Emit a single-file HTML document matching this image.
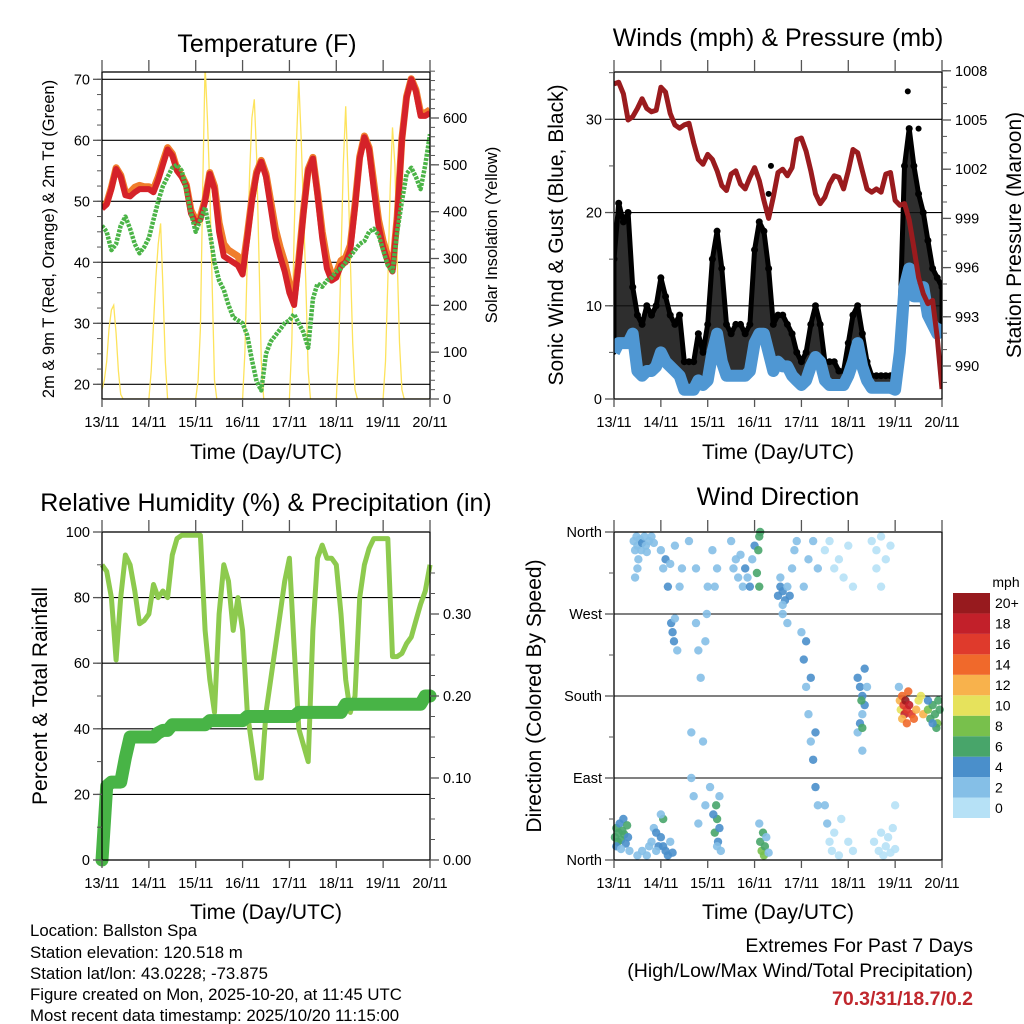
<!DOCTYPE html>
<html><head><meta charset="utf-8"><style>
html,body{margin:0;padding:0;background:#fff}
svg{display:block;font-family:"Liberation Sans",sans-serif}
</style></head><body>
<svg id="c" width="1024" height="1024" viewBox="0 0 1024 1024" xmlns="http://www.w3.org/2000/svg">
<rect width="1024" height="1024" fill="#fff"/>
<g font-size="25" text-anchor="middle" fill="#000">
<text x="267" y="52">Temperature (F)</text>
<text x="778" y="46">Winds (mph) &amp; Pressure (mb)</text>
<text x="266" y="511">Relative Humidity (%) &amp; Precipitation (in)</text>
<text x="778" y="505">Wind Direction</text>
</g>
<g font-size="21" text-anchor="middle">
<text x="266" y="459">Time (Day/UTC)</text>
<text x="778" y="459">Time (Day/UTC)</text>
<text x="266" y="919">Time (Day/UTC)</text>
<text x="778" y="919">Time (Day/UTC)</text>
<text transform="translate(563,235) rotate(-90)">Sonic Wind &amp; Gust (Blue, Black)</text>
<text transform="translate(1021,235) rotate(-90)">Station Pressure (Maroon)</text>
<text transform="translate(47,696) rotate(-90)">Percent &amp; Total Rainfall</text>
<text transform="translate(541,696) rotate(-90)">Direction (Colored By Speed)</text>
</g>
<g font-size="16.5" text-anchor="middle">
<text transform="translate(54,239) rotate(-90)">2m &amp; 9m T (Red, Orange) &amp; 2m Td (Green)</text>
<text transform="translate(497,235) rotate(-90)">Solar Insolation (Yellow)</text>
</g>
<g font-size="16.8">
<text x="30" y="936">Location: Ballston Spa</text>
<text x="30" y="958">Station elevation: 120.518 m</text>
<text x="30" y="979">Station lat/lon: 43.0228; -73.875</text>
<text x="30" y="1000">Figure created on Mon, 2025-10-20, at 11:45 UTC</text>
<text x="30" y="1021">Most recent data timestamp: 2025/10/20 11:15:00</text>
</g>
<g font-size="19.5" text-anchor="end">
<text x="973" y="952">Extremes For Past 7 Days</text>
<text x="973" y="977">(High/Low/Max Wind/Total Precipitation)</text>
<text x="973" y="1005" font-weight="bold" fill="#c0272d">70.3/31/18.7/0.2</text>
</g>
<g id="layer"></g>
</svg>
<script>
// ---------- data (sampled every 0.1 day unless noted) ----------
const dayLabels = ["13/11","14/11","15/11","16/11","17/11","18/11","19/11","20/11"];
const tempRed = [48.8,49.5,52,55.3,54,51,50.8,51.5,52,52,52,51.5,53.5,56,58.5,57.5,55,54,52.5,48,46.5,47,50,54.5,52,45,41,40.5,40,39.5,38,44,50,54.5,56.5,54,49,44,41,38.5,35,33,40,48,55,57,51,44,39,37,37.5,39.5,40,42,49,57,60.5,58.5,52,46,42.5,40,38.5,47,60,67,70,68,64,64,64.5];
const tempOrange = [49,49.7,52.3,55.5,54.3,51.5,51.5,52.3,52.6,52.4,52.4,52,54,56.5,58.8,57.8,55.3,54.2,52.7,48.5,47,47.5,50.3,54.7,52.5,46.5,43,42,41.5,41,39,44.5,50.5,54.8,56.7,54.5,50,45.5,42.5,40,36.5,34,40.5,48.5,55.3,57.2,51.5,45,40.5,38,38.3,40.3,40.8,42.8,49.5,57.3,60.7,58.8,53,47,43.5,41,39,47.5,60.3,67.2,70.1,68.3,64.5,64.5,65];
const dewGreen = [46,45,42,43,46,47.5,45.5,43,41.5,42.5,44,47,50,52.5,54,55.5,56,55,52,48,45,47,49,45,40,37,35.5,33,31,30.5,30,28,24,20.5,19,25,27,28,29,30,30.5,31.5,30,28.5,26,34,36.5,36,37,37.5,38.5,39,40,41,42,43,43.5,45,45.5,44.5,42,39.5,38.5,45,50,54.5,55.5,54,52,56,61];
// solar every 0.05 day
const solar = [20,40,80,150,190,200,140,60,10,0,0,0,0,0,0,0,0,0,0,0,
0,60,160,260,330,375,240,80,0,0,0,0,0,0,0,0,0,0,0,0,
0,40,150,450,713,600,450,250,40,0,0,0,0,0,0,0,0,0,0,0,
0,100,300,480,600,640,520,300,80,0,0,0,0,0,0,0,0,0,0,0,
0,120,350,550,680,560,400,250,60,0,0,0,0,0,0,0,0,0,0,0,
0,100,300,500,625,480,300,120,20,0,0,0,0,0,0,0,0,0,0,0,
0,80,250,450,580,500,300,120,20,0,0,0,0,0,0,0,0,0,0,0,0];
const pressure = [1007.2,1007.3,1006.6,1005.0,1005.2,1005.7,1006.3,1005.7,1005.5,1005.6,1007.0,1006.7,1005.4,1004.7,1004.5,1004.7,1004.8,1003.6,1002.6,1002.3,1002.9,1002.6,1001.9,1001.0,1000.7,1001.7,1001.9,1001.1,1000.8,1001.5,1002.1,1001.3,1000.1,999.0,1000.3,1001.8,1002.0,1001.6,1002.1,1003.8,1003.9,1003.1,1001.9,1000.5,999.9,1000.3,1001.1,1001.6,1001.5,1000.8,1001.9,1003.2,1003.0,1001.9,1000.8,1000.6,1000.8,1000.6,1001.7,1001.8,1000.1,999.8,999.9,998.9,997.2,995.4,994.4,993.8,994.0,991.7,988.6];
const windSpeed = [5,6,6,6,7,3,2.5,3,3,3.5,5,4,3.5,3,2.5,1,1,1,2,1.5,2,5,7,4,2.5,2.5,2.5,2.5,2.5,3,6,7,7,5,3,4,3.5,3.5,2.5,2,1.5,2,3.5,4.5,4,2,1.5,1.5,1.5,1.5,2.5,4,6,3.5,2,1.2,1.2,1.2,1.2,1.2,1,5,12,14,11,11,12,9,8,7,8];
const gustMax = [15,21,19,20,12,9,8,10,9,10,13,11,9,8,9,4,4,4,7,5,8,15,18,14,8,7,8,8,7,8,16,19,18,14,8,9,9,8,7,5,4,5,8,10,8,4,4,4,3,3,6,9,10,7,4,2.5,2.5,2.5,2.5,2.5,2.5,8,25,29,25,22,20,17,14,13,12];
const gustOutDays = [6.27,3.35,6.5,3.3];
const gustOutVals = [33,25,29,22];
const rh = [90,88,80,61,80,93,90,82,72,73,75,84,80,82,80,93,98,99,99,99,99,99,70,55,45,75,90,85,70,80,70,45,35,25,25,45,55,65,75,85,92,65,40,35,30,70,92,96,92,92,90,75,55,45,50,80,90,95,98,98,98,98,62,62,63,66,68,73,78,82,90];
const precip = [0,0.09,0.095,0.095,0.095,0.125,0.15,0.15,0.15,0.15,0.15,0.15,0.155,0.158,0.158,0.165,0.165,0.165,0.165,0.165,0.165,0.165,0.165,0.17,0.17,0.17,0.17,0.17,0.17,0.17,0.17,0.175,0.175,0.175,0.175,0.175,0.175,0.175,0.175,0.175,0.175,0.175,0.18,0.18,0.18,0.18,0.18,0.18,0.18,0.18,0.18,0.18,0.19,0.19,0.19,0.19,0.19,0.19,0.19,0.19,0.19,0.19,0.19,0.19,0.19,0.19,0.19,0.19,0.19,0.2,0.2];
const dirDay = [0.02,0.05,0.08,0.1,0.12,0.15,0.18,0.2,0.22,0.25,0.28,0.3,0.05,0.15,0.33,
0.42,0.45,0.48,0.5,0.52,0.55,0.58,0.6,0.65,0.68,0.7,0.75,0.8,0.85,0.5,0.45,
0.5,0.6,0.7,0.75,0.8,0.85,0.9,0.95,1.0,1.05,1.05,1.1,1.15,1.2,1.25,0.9,1.0,
1.0,1.05,1.1,1.15,1.2,1.22,1.25,1.28,1.3,1.35,1.4,1.45,1.3,
1.65,1.7,1.75,1.8,1.85,1.9,1.95,1.75,1.6,1.65,1.8,2.0,1.98,1.95,2.05,
2.15,2.2,2.18,2.22,2.25,2.12,2.2,2.28,2.25,2.15,2.2,2.1,
2.5,2.55,2.6,2.65,2.7,2.75,2.8,2.85,2.9,2.95,3.0,3.05,3.08,3.1,3.12,3.1,
3.12,3.15,3.18,3.2,3.22,3.1,3.25,3.3,
3.5,3.55,3.6,3.65,3.7,3.75,3.55,3.6,3.8,3.85,3.9,3.7,3.6,
4.0,4.05,4.1,4.15,4.2,4.25,4.3,4.35,4.1,4.2,4.3,4.05,4.15,4.25,4.35,
4.5,4.55,4.6,4.65,4.7,4.8,4.85,4.5,4.6,4.7,4.8,4.9,5.0,5.1,5.0,5.1,
5.2,5.25,5.3,5.35,5.3,5.25,5.2,5.35,5.3,5.28,5.4,5.3,
5.5,5.6,5.7,5.8,5.9,5.6,5.7,5.55,5.65,5.7,5.75,5.8,5.85,5.9,6.0,5.95,6.0,
6.1,6.12,6.15,6.18,6.2,6.22,6.25,6.28,6.3,6.35,6.4,6.45,6.5,6.55,6.6,6.15,6.25,6.08,
6.7,6.75,6.8,6.85,6.9,6.92,6.88,6.95,6.8,6.7];
const dirDeg = [25,35,20,30,40,22,32,45,28,18,38,25,15,12,10,
350,340,355,345,330,352,340,348,355,345,338,350,355,348,320,310,
5,10,5,15,20,35,30,15,25,45,15,10,5,20,8,10,50,
340,320,330,300,325,260,250,240,265,230,300,320,345,
90,70,260,230,200,130,60,320,350,140,40,300,270,240,80,
30,45,60,20,35,50,15,10,70,300,320,340,
350,320,330,310,335,300,320,310,300,330,345,315,340,355,360,300,
20,10,30,5,15,40,25,8,
290,300,295,285,300,290,310,280,320,340,350,260,270,
250,220,190,160,130,110,80,60,240,200,140,300,330,350,320,
60,40,20,10,30,5,45,340,350,320,330,310,345,300,20,10,
200,190,180,170,160,150,140,210,145,175,190,120,
350,340,355,330,345,320,300,20,10,30,5,15,25,8,12,35,60,
175,165,180,170,160,175,165,185,170,160,155,165,175,180,160,155,150,190,
165,155,170,160,150,175,145,165,150,175];
const dirSpd = [6,7,6,7,5,6,7,4,6,4,7,5,4,3,3,
2,2,2,2,2,3,2,4,2,3,3,2,2,2,2,2,
2,2,3,2,3,3,4,4,4,6,4,4,4,3,4,2,3,
3,3,4,4,2,4,4,5,3,2,2,2,2,
2,2,3,3,2,2,2,2,2,2,2,3,3,2,2,
7,6,7,5,4,4,3,3,2,3,2,2,
2,2,2,3,3,2,4,3,4,3,4,6,6,6,6,7,
7,8,6,8,6,3,3,2,
4,4,5,4,3,4,3,3,2,2,2,2,3,
3,4,3,2,3,4,4,2,4,4,4,2,2,2,2,
2,2,1,1,1,1,1,1,1,1,1,1,1,1,1,1,
4,4,5,4,3,4,3,4,6,6,3,3,
1,1,1,1,1,1,1,1,1,1,1,1,1,1,1,1,1,
12,10,14,16,18,20,16,14,18,16,14,12,10,10,12,12,14,3,
8,7,6,7,8,6,7,6,5,4];
const speedBins = ["0","2","4","6","8","10","12","14","16","18","20+"];
const binColors = ["#b6e1f6","#85bfe7","#4a8fcb","#48a56a","#78c04c","#e6e25c","#f8b24c","#f0692b","#df3a2c","#c2202a","#971a1e"];

// ---------- helpers ----------
const NS="http://www.w3.org/2000/svg";
const layer=document.getElementById('layer');
function mk(tag,attrs,parent){const e=document.createElementNS(NS,tag);for(const k in attrs)e.setAttribute(k,attrs[k]);(parent||layer).appendChild(e);return e;}
function lin(d0,d1,r0,r1){return v=>r0+(v-d0)*(r1-r0)/(d1-d0);}
function pathFrom(arr,step,xs,ys){return arr.map((v,i)=>(i?'L':'M')+xs(i*step).toFixed(1)+' '+ys(v).toFixed(1)).join(' ');}
function frame(x0,y0,x1,y1,name){
  const r=mk('rect',{x:x0,y:y0,width:x1-x0,height:y1-y0,fill:'none',stroke:'#000','stroke-width':1.3});
  
  
}
function hgrid(y,x0,x1){const l=mk('line',{x1:x0,x2:x1,y1:y,y2:y,stroke:'#000','stroke-width':1.1});
  
  }
function text(x,y,s,anchor,size,name){const t=mk('text',{x:x,y:y,'font-size':size||14.5,'text-anchor':anchor||'middle'});t.textContent=s;
  
  return t;}
function xAxis(xs,y0,y1,labelY){
  dayLabels.forEach((lb,i)=>{const x=xs(i);
    mk('line',{x1:x,x2:x,y1:y1,y2:y1+8,stroke:'#555','stroke-width':1.3});
    mk('line',{x1:x,x2:x,y1:y0-12,y2:y0,stroke:'#555','stroke-width':1.3});
    text(x,labelY,lb,'middle',14.5,'x-tick-label');});
}
function leftTicks(x0,ys,vals,labels,minor){
  minor.forEach(v=>mk('line',{x1:x0-5,x2:x0,y1:ys(v),y2:ys(v),stroke:'#555','stroke-width':1}));
  vals.forEach((v,i)=>{mk('line',{x1:x0-9,x2:x0,y1:ys(v),y2:ys(v),stroke:'#555','stroke-width':1.3});
    text(x0-12,ys(v)+5,labels[i],'end',14.5,'y-tick-label');});
}
function rightTicks(x1,ys,vals,labels,minor){
  minor.forEach(v=>mk('line',{x1:x1,x2:x1+5,y1:ys(v),y2:ys(v),stroke:'#555','stroke-width':1}));
  vals.forEach((v,i)=>{mk('line',{x1:x1,x2:x1+9,y1:ys(v),y2:ys(v),stroke:'#555','stroke-width':1.3});
    text(x1+13,ys(v)+5,labels[i],'start',14.5,'y2-tick-label');});
}
function range(a,b,s){const r=[];for(let v=a;v<=b+1e-9;v+=s)r.push(+v.toFixed(3));return r;}

// ---------- Panel 1: temperature ----------
{
const X0=102,X1=430,Y0=72,Y1=399;
const xs=lin(0,7,X0,X1), ys=lin(20,70,384.3,79.3), ys2=lin(0,600,399,118);
const cp=mk('clipPath',{id:'cp1'});mk('rect',{x:X0,y:Y0,width:X1-X0,height:Y1-Y0},cp);
[20,30,40,50,60,70].forEach(v=>hgrid(ys(v),X0,X1));
const g=mk('g',{'clip-path':'url(#cp1)'});


const sp=mk('path',{d:pathFrom(solar,0.05,xs,ys2),fill:'none',stroke:'#fde35c','stroke-width':1.3},g);


const op=mk('path',{d:pathFrom(tempOrange,0.1,xs,ys),fill:'none',stroke:'#f07d2b','stroke-width':7,'stroke-linejoin':'round'},g);


const rp=mk('path',{d:pathFrom(tempRed,0.1,xs,ys),fill:'none',stroke:'#d52229','stroke-width':6,'stroke-linejoin':'round'},g);


const dp=mk('path',{d:pathFrom(dewGreen,0.1,xs,ys),fill:'none',stroke:'#4bb447','stroke-width':4.5,'stroke-dasharray':'3 1.2','stroke-linejoin':'round'},g);


frame(X0,Y0,X1,Y1,'temperature-frame');
xAxis(xs,Y0,Y1,427);
leftTicks(X0,ys,[20,30,40,50,60,70],["20","30","40","50","60","70"],range(20,70,2.5));
rightTicks(X1,ys2,[0,100,200,300,400,500,600],["0","100","200","300","400","500","600"],range(0,700,20));
}

// ---------- Panel 2: winds & pressure ----------
{
const X0=614,X1=942,Y0=72,Y1=399;
const xs=lin(0,7,X0,X1), ys=lin(0,30,399,119.3), ys2=lin(990,1005,366,120);
const cp=mk('clipPath',{id:'cp2'});mk('rect',{x:X0,y:Y0,width:X1-X0,height:Y1-Y0},cp);
[10,20,30].forEach(v=>hgrid(ys(v),X0,X1));
const g=mk('g',{'clip-path':'url(#cp2)'});


let d=gustMax.map((v,i)=>(i?'L':'M')+xs(i*0.1).toFixed(1)+' '+ys(v).toFixed(1)).join(' ');
for(let i=windSpeed.length-1;i>=0;i--)d+=' L'+xs(i*0.1).toFixed(1)+' '+ys(windSpeed[i]).toFixed(1);
const band=mk('path',{d:d+'Z',fill:'#111','fill-opacity':0.88,stroke:'#000','stroke-width':5,'stroke-linejoin':'round'},g);


gustMax.forEach((v,i)=>{const c=mk('circle',{cx:xs(i*0.1),cy:ys(v),r:3.5,fill:'#000'},g);
  
  });
gustOutDays.forEach((dd,i)=>{const c=mk('circle',{cx:xs(dd),cy:ys(gustOutVals[i]),r:3,fill:'#000'},g);
  
  });
const wp=mk('path',{d:pathFrom(windSpeed,0.1,xs,ys),fill:'none',stroke:'#4f97d3','stroke-width':12,'stroke-linejoin':'round'},g);


const pp=mk('path',{d:pathFrom(pressure,0.1,xs,ys2),fill:'none',stroke:'#9a1b1e','stroke-width':5,'stroke-linejoin':'round'},g);


frame(X0,Y0,X1,Y1,'winds-frame');
xAxis(xs,Y0,Y1,427);
leftTicks(X0,ys,[0,10,20,30],["0","10","20","30"],range(0,35,5));
rightTicks(X1,ys2,[990,993,996,999,1002,1005,1008],["990","993","996","999","1002","1005","1008"],range(989,1008,1));
}

// ---------- Panel 3: RH & precip ----------
{
const X0=102,X1=430,Y0=532,Y1=860;
const xs=lin(0,7,X0,X1), ys=lin(0,100,860,532), ys2=lin(0,0.3,860,614);
const cp=mk('clipPath',{id:'cp3'});mk('rect',{x:X0-8,y:Y0-8,width:X1-X0+16,height:Y1-Y0+16},cp);
[20,40,60,80].forEach(v=>hgrid(ys(v),X0,X1));
const g=mk('g',{'clip-path':'url(#cp3)'});


const hp=mk('path',{d:pathFrom(rh,0.1,xs,ys),fill:'none',stroke:'#8dca4e','stroke-width':5,'stroke-linejoin':'round'},g);


const pr=mk('path',{d:pathFrom(precip,0.1,xs,ys2),fill:'none',stroke:'#48b446','stroke-width':13,'stroke-linejoin':'round','stroke-linecap':'round'},g);


frame(X0,Y0,X1,Y1,'humidity-frame');
xAxis(xs,Y0,Y1,888);
leftTicks(X0,ys,[0,20,40,60,80,100],["0","20","40","60","80","100"],range(0,100,10));
rightTicks(X1,ys2,[0,0.1,0.2,0.3],["0.00","0.10","0.20","0.30"],range(0,0.35,0.025));
}

// ---------- Panel 4: wind direction ----------
{
const X0=614,X1=942,Y0=532,Y1=860;
const xs=lin(0,7,X0,X1), ys=lin(0,360,860,532);
[90,180,270].forEach(v=>hgrid(ys(v),X0,X1));
const g=mk('g',{});


dirDay.forEach((dd,i)=>{const b=Math.min(10,Math.floor(dirSpd[i]/2));
  const c=mk('circle',{cx:xs(dd),cy:ys(dirDeg[i]),r:4.2,fill:binColors[b],'fill-opacity':0.9},g);
  
  });
frame(X0,Y0,X1,Y1,'direction-frame');
xAxis(xs,Y0,Y1,888);
leftTicks(X0,ys,[0,90,180,270,360],["North","East","South","West","North"],[0,45,90,135,180,225,270,315,360]);
const cbX=953,cbW=37,cbTop=593,cbH=225,cell=cbH/speedBins.length;
text(1006,587,'mph','middle',14,'colorbar-unit');
speedBins.forEach((lb,i)=>{const y=cbTop+cbH-(i+1)*cell;
  const r=mk('rect',{x:cbX,y:y,width:cbW,height:cell,fill:binColors[i]});
  
  
  text(995,y+cell/2+5,lb,'start',14,'colorbar-label');});
}
</script>
</body></html>
